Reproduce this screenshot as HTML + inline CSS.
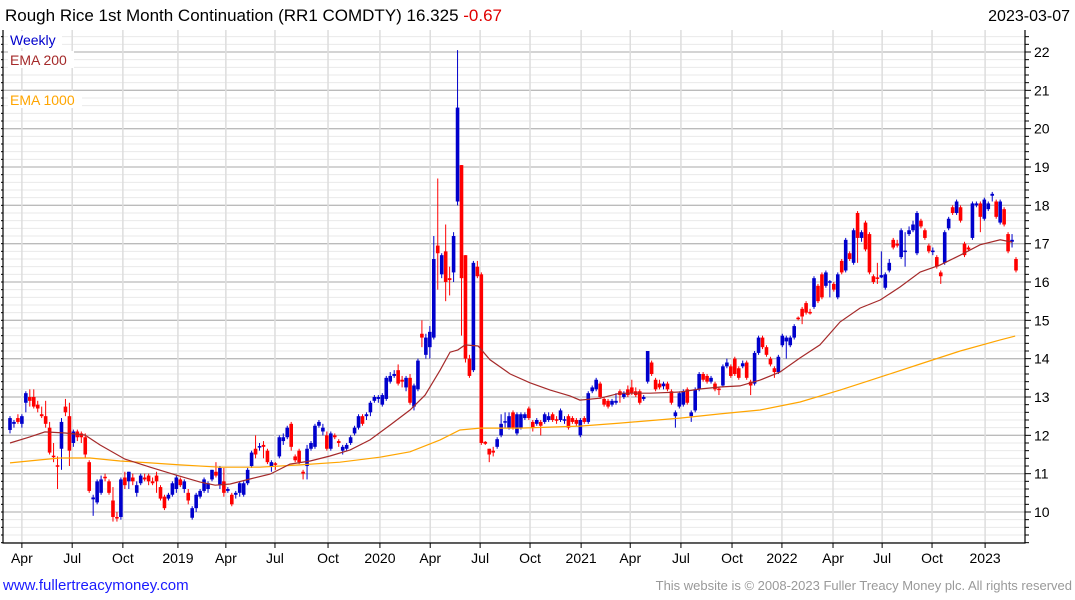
<!DOCTYPE html>
<html><head><meta charset="utf-8"><style>
html,body{margin:0;padding:0;background:#fff;}
svg{display:block;font-family:"Liberation Sans",sans-serif;}
</style></head><body>
<svg id="chart" width="1075" height="600" viewBox="0 0 1075 600" xmlns="http://www.w3.org/2000/svg">
<text x="5" y="21" font-size="17" fill="#000">Rough Rice 1st Month Continuation (RR1 COMDTY) 16.325 <tspan fill="#e00000">-0.67</tspan></text>
<text x="1070" y="21" font-size="16" fill="#000" text-anchor="end">2023-03-07</text>
<g id="grid"></g>
<g id="candles"></g>
<g id="emas"></g>
<g id="axes"></g>
<g font-size="14">
<rect x="8" y="31" width="54" height="17" fill="#fff"/>
<text x="10" y="45" fill="#0000cc">Weekly</text>
<rect x="8" y="51" width="66" height="17" fill="#fff"/>
<text x="10" y="65" fill="#a52a2a">EMA 200</text>
<rect x="8" y="91" width="74" height="17" fill="#fff"/>
<text x="10" y="105" fill="#ffa500">EMA 1000</text>
</g>
<text x="3" y="590" font-size="15" fill="#1a1aff">www.fullertreacymoney.com</text>
<text x="1072" y="590" font-size="13" fill="#999" text-anchor="end">This website is © 2008-2023 Fuller Treacy Money plc. All rights reserved</text>
</svg>
<script>
const opens=[12.14,12.3,12.45,12.3,12.85,13.0,13.0,12.8,12.55,12.5,12.2,11.47,11.22,11.65,12.75,12.5,11.8,12.1,12.05,11.95,11.3,10.33,10.25,10.5,10.92,10.8,10.3,9.87,9.87,10.9,10.8,10.9,10.5,10.75,10.9,10.95,10.8,10.95,10.65,10.4,10.35,10.45,10.6,10.85,10.6,10.5,9.85,10.1,10.4,10.55,10.6,10.85,11.05,10.7,10.8,10.55,10.45,10.45,10.5,10.45,10.75,11.2,11.65,11.68,11.75,11.6,11.2,11.27,11.45,11.85,11.95,12.3,11.45,11.6,11.05,11.2,11.65,11.7,12.25,12.1,12.0,11.65,12.0,11.85,11.6,11.65,11.8,12.05,12.2,12.5,12.5,12.6,12.9,12.95,12.8,12.95,13.4,13.55,13.7,13.45,13.25,13.5,12.75,13.2,14.65,14.1,14.3,14.55,16.95,16.2,16.8,16.1,16.25,18.1,19.05,16.7,14.0,13.7,16.4,16.2,11.83,11.65,11.6,11.7,12.0,12.33,12.2,12.6,12.05,12.2,12.45,12.7,12.35,12.3,12.35,12.35,12.4,12.55,12.42,12.4,12.38,12.5,12.45,12.4,12.0,12.45,12.35,13.15,13.2,13.35,12.95,12.9,12.8,12.85,13.15,13.0,13.2,13.25,13.15,13.15,12.95,13.4,13.9,13.45,13.35,13.28,13.35,13.15,12.5,12.75,12.8,13.2,12.5,12.65,13.2,13.6,13.55,13.4,13.35,13.22,13.3,13.8,13.8,14.0,13.75,13.8,13.9,13.4,13.35,14.15,14.55,14.3,14.0,13.75,13.65,14.35,14.45,14.35,14.55,15.07,15.3,15.45,15.22,15.35,15.9,16.2,15.9,15.98,15.95,15.6,16.55,16.3,16.75,16.5,17.8,17.15,17.55,17.25,16.15,16.12,16.12,15.85,16.3,17.1,17.0,16.65,16.8,17.25,17.35,16.75,17.6,17.35,16.95,16.78,16.65,16.25,16.5,17.4,17.95,17.8,17.95,17.0,16.9,17.15,18.0,18.05,17.65,17.9,18.25,18.1,17.55,17.9,17.25,17.05,16.6];
const highs=[12.5,12.4,12.55,12.55,13.15,13.2,13.2,12.9,12.75,12.9,12.35,11.8,11.45,12.45,12.95,12.85,12.15,12.15,12.1,12.05,11.35,10.45,10.85,10.95,11.0,10.85,10.65,10.0,10.9,11.05,11.05,11.0,10.8,11.0,11.0,11.0,10.9,11.05,10.7,10.45,10.5,10.8,10.95,10.9,10.85,10.6,10.15,10.5,10.6,10.9,10.8,11.1,11.3,11.2,11.15,10.65,10.5,10.55,10.8,10.8,11.15,11.6,12.0,11.8,11.85,11.65,11.35,11.3,12.0,12.05,12.25,12.35,11.5,11.65,11.1,11.75,11.85,12.3,12.4,12.3,12.1,12.1,12.05,11.9,11.75,11.8,12.0,12.25,12.55,12.55,12.6,12.9,13.05,13.05,13.1,13.55,13.65,13.7,13.85,13.55,13.55,13.6,13.35,14.0,15.0,14.65,14.85,17.2,18.7,16.75,17.5,16.4,17.3,22.05,19.05,16.7,14.1,16.55,16.55,16.25,11.85,11.65,11.7,11.95,12.55,12.6,12.6,12.65,12.6,12.6,12.6,12.75,12.4,12.45,12.4,12.6,12.6,12.6,12.5,12.7,12.5,12.55,12.5,12.45,12.45,12.5,13.15,13.3,13.5,13.4,13.0,12.95,12.95,13.1,13.2,13.15,13.3,13.45,13.25,13.2,13.05,14.2,13.95,13.5,13.45,13.4,13.4,13.2,12.65,13.15,13.2,13.25,12.65,13.25,13.65,13.65,13.6,13.55,13.4,13.25,13.85,14.0,13.85,14.05,13.8,13.95,13.95,13.45,14.2,14.6,14.6,14.35,14.05,13.8,14.1,14.65,14.6,14.6,14.9,15.1,15.35,15.5,15.3,16.15,15.95,16.25,16.3,16.05,16.0,16.25,16.6,17.15,16.8,17.4,17.85,17.35,17.6,17.3,16.2,16.5,16.8,16.25,16.6,17.15,17.1,17.4,17.3,17.45,17.6,17.85,17.65,17.4,17.0,16.9,16.7,16.3,17.35,17.7,18.0,18.15,18.0,17.05,16.95,18.1,18.1,18.1,18.2,18.1,18.35,18.15,18.15,17.95,17.3,17.25,16.65];
const lows=[12.05,12.2,12.3,12.2,12.6,12.75,12.7,12.6,12.45,12.2,11.5,11.3,10.6,11.1,12.5,11.2,11.7,11.85,11.8,11.4,10.5,9.9,10.2,10.45,10.8,10.45,9.75,9.75,9.8,10.6,10.6,10.7,10.4,10.7,10.8,10.7,10.7,10.5,10.3,10.05,10.3,10.4,10.5,10.65,10.5,10.2,9.8,10.0,10.35,10.5,10.5,10.8,10.9,10.6,10.4,10.5,10.15,10.35,10.4,10.4,10.7,11.15,11.4,11.6,11.4,11.25,11.05,11.1,11.4,11.75,11.9,11.6,11.3,11.25,10.85,10.85,11.6,11.65,12.2,12.0,11.6,11.6,11.9,11.7,11.5,11.6,11.75,12.0,12.15,12.25,12.4,12.5,12.85,12.85,12.75,12.9,13.35,13.5,13.3,13.25,13.15,12.8,12.65,13.15,14.3,14.0,14.0,14.5,15.8,16.1,15.5,15.65,16.0,18.0,14.6,13.9,13.5,13.65,16.1,11.75,11.75,11.3,11.45,11.65,11.95,12.2,12.15,12.15,12.0,12.15,12.4,12.4,12.1,12.25,12.0,12.3,12.35,12.35,12.3,12.35,12.3,12.15,12.3,12.25,11.95,12.3,12.3,13.1,13.15,12.95,12.75,12.7,12.75,12.8,12.85,12.95,13.0,13.05,13.0,12.8,12.9,13.35,13.55,13.15,13.2,13.2,13.15,12.8,12.2,12.7,12.75,12.8,12.35,12.6,13.15,13.4,13.35,13.35,13.15,13.05,13.25,13.75,13.5,13.55,13.45,13.75,13.45,13.05,13.3,14.1,14.25,14.05,13.8,13.5,13.6,14.3,14.0,14.3,14.5,15.0,14.9,15.15,15.15,15.3,15.45,15.55,15.85,15.6,15.75,15.55,16.2,16.25,16.55,16.45,16.5,17.05,16.8,16.2,15.95,15.95,16.1,15.8,16.25,16.85,16.9,16.6,16.4,17.2,17.3,16.7,17.4,17.1,16.75,16.7,16.35,15.95,16.45,17.35,17.75,17.75,17.55,16.65,16.8,17.1,17.95,17.3,17.6,17.85,18.1,17.65,17.5,17.45,16.75,16.9,16.25];
const closes=[12.45,12.35,12.35,12.5,13.1,12.9,12.75,12.7,12.5,12.3,11.55,11.43,11.18,12.35,12.6,11.6,12.1,11.95,11.95,11.5,10.55,10.38,10.8,10.85,10.88,10.5,9.87,9.83,10.85,10.7,11.05,10.8,10.7,10.95,10.85,10.8,10.75,10.8,10.35,10.1,10.45,10.75,10.9,10.7,10.8,10.3,10.1,10.45,10.55,10.85,10.75,11.1,10.95,11.15,10.5,10.6,10.2,10.5,10.75,10.75,11.1,11.55,11.5,11.72,11.7,11.3,11.3,11.23,11.95,11.95,12.2,11.7,11.35,11.3,11.0,11.65,11.8,12.25,12.35,12.2,11.65,12.05,11.95,11.8,11.7,11.75,11.95,12.2,12.5,12.3,12.55,12.85,13.0,13.0,13.05,13.5,13.55,13.6,13.35,13.4,13.5,12.85,13.3,13.95,14.55,14.55,14.7,16.6,16.75,16.7,16.0,16.05,17.2,20.55,16.1,14.0,13.55,16.5,16.15,11.8,11.78,11.5,11.55,11.9,12.3,12.37,12.5,12.2,12.55,12.55,12.55,12.45,12.2,12.4,12.25,12.55,12.5,12.4,12.38,12.65,12.42,12.2,12.35,12.3,12.4,12.35,13.1,13.25,13.45,13.0,12.8,12.75,12.9,12.9,13.05,13.1,13.05,13.1,13.05,12.85,13.0,14.2,13.6,13.2,13.25,13.35,13.2,12.85,12.6,13.1,13.15,12.85,12.6,13.2,13.6,13.45,13.4,13.5,13.2,13.18,13.8,13.9,13.55,13.6,13.5,13.88,13.5,13.3,14.15,14.55,14.3,14.1,13.85,13.65,14.05,14.6,14.55,14.55,14.85,15.03,15.1,15.2,15.18,16.1,15.5,15.6,16.25,16.02,15.8,16.2,16.25,17.1,16.6,17.35,17.15,17.3,16.85,16.25,16.0,16.08,16.18,16.2,16.5,16.9,16.95,17.35,16.82,17.35,17.5,17.8,17.45,17.15,16.8,16.82,16.4,16.15,17.3,17.65,17.8,18.1,17.6,16.7,16.85,18.05,18.05,17.7,18.15,18.05,18.3,17.7,18.1,17.5,16.8,17.1,16.3];

const ema200Weeks=[0,5,8.8,13.9,18.9,22.7,29,35.4,41.7,48,51.8,55.6,60.6,65.7,70.7,75.8,80.8,85.9,90.9,96,101,104.8,108.6,111.1,113.1,114.9,118.2,121.2,126.3,131.3,136.4,141.4,143.9,149,154,161.6,169.2,174.2,179.3,184.3,189.4,194.4,199.5,204.5,209.6,214.6,219.7,224.7,229.8,234.8,239.9,244.9,250,253];
const ema200Values=[11.80,11.96,12.09,12.06,12.01,11.75,11.38,11.17,10.97,10.78,10.70,10.73,10.86,10.99,11.25,11.33,11.46,11.62,11.88,12.27,12.66,13.05,13.70,14.17,14.23,14.36,14.33,13.97,13.60,13.37,13.18,13.03,12.92,12.97,13.10,13.10,13.13,13.21,13.26,13.29,13.44,13.65,14.02,14.36,14.96,15.32,15.53,15.87,16.26,16.44,16.70,16.97,17.10,17.04];
const ema1000Weeks=[0,7.6,12.6,20.2,27.8,35.4,42.9,53,63.1,73.2,83.3,93.4,101,108.6,113.6,118.7,128.8,143.9,154,169.2,179.3,189.4,199.5,209.6,219.7,229.8,239.9,250,253.8];
const ema1000Values=[11.28,11.36,11.41,11.41,11.33,11.28,11.23,11.17,11.17,11.23,11.30,11.43,11.57,11.88,12.14,12.19,12.19,12.24,12.32,12.45,12.56,12.66,12.87,13.18,13.52,13.86,14.20,14.49,14.59];

const tickWeeks=[3.0,15.7,28.5,42.4,54.5,66.9,80.3,93.4,106.1,118.7,131.3,144.2,156.6,169.4,182.3,194.9,207.8,220.2,232.8,246.2];
const tickLabels=["Apr","Jul","Oct","2019","Apr","Jul","Oct","2020","Apr","Jul","Oct","2021","Apr","Jul","Oct","2022","Apr","Jul","Oct","2023"];
const yTicks=[10,11,12,13,14,15,16,17,18,19,20,21,22];

const NS="http://www.w3.org/2000/svg";
const L=3,R=1025,T=30,B=543;
function xs(w){return 10+w*(1006/(closes.length-1));}
function ys(v){return 512-(v-10)*38.333;}
function mk(tag,attrs,parent){const e=document.createElementNS(NS,tag);for(const k in attrs)e.setAttribute(k,attrs[k]);parent.appendChild(e);return e;}

const grid=document.getElementById('grid');
for(let k=46;k<=112;k++){
  const v=k*0.2; const y=ys(v);
  if(y<T||y>B)continue;
  const major=(k%5===0);
  const ln=mk('line',{x1:L,x2:R,y1:y,y2:y,stroke:major?'#bbbbbb':'#eaeaea','stroke-width':major?1.3:1},grid);
  
  
}
tickWeeks.forEach(w=>{
  const x=xs(w);
  const ln=mk('line',{x1:x,x2:x,y1:T,y2:B,stroke:'#dddddd','stroke-width':1.5},grid);
  
  
});

const cg=document.getElementById('candles');
for(let i=0;i<closes.length;i++){
  const up=closes[i]>=opens[i];
  const col=up?'#0000cc':'#ff0000';
  const x=xs(i);
  const g=mk('g',{},cg);
  
  
  mk('line',{x1:x,x2:x,y1:ys(highs[i]),y2:ys(lows[i]),stroke:col,'stroke-width':1},g);
  const top=ys(Math.max(opens[i],closes[i])), bot=ys(Math.min(opens[i],closes[i]));
  mk('rect',{x:x-1.8,y:top,width:3.6,height:Math.max(1.5,bot-top),fill:col},g);
}

const eg=document.getElementById('emas');
function poly(ws,vs,col,name){
  const p=mk('polyline',{points:ws.map((w,i)=>xs(w).toFixed(1)+','+ys(vs[i]).toFixed(1)).join(' '),fill:'none',stroke:col,'stroke-width':1.2},eg);
  
  
}
poly(ema1000Weeks,ema1000Values,'#ffa500','ema-1000-line');
poly(ema200Weeks,ema200Values,'#a52a2a','ema-200-line');

const ax=document.getElementById('axes');
const frame=mk('path',{d:`M${L},${T} L${L},${B} L${R},${B} L${R},${T}`,fill:'none',stroke:'#000','stroke-width':1.2},ax);


for(let k=46;k<=112;k++){
  const y=ys(k*0.2); if(y<T||y>B)continue;
  const major=(k%5===0);
  mk('line',{x1:R,x2:R+(major?6:4),y1:y,y2:y,stroke:'#000','stroke-width':1},ax);
  mk('line',{x1:L-2,x2:L,y1:y,y2:y,stroke:'#000','stroke-width':1},ax);
}
yTicks.forEach(v=>{
  const t=mk('text',{x:R+9,y:ys(v)+5,'font-size':14,fill:'#000'},ax);
  t.textContent=String(v);
  
  
});
tickWeeks.forEach((w,i)=>{
  const x=xs(w);
  mk('line',{x1:x,x2:x,y1:B,y2:B+5,stroke:'#000','stroke-width':1},ax);
  const t=mk('text',{x:x,y:563,'font-size':14,fill:'#000','text-anchor':'middle'},ax);
  t.textContent=tickLabels[i];
  
  
});
</script>
</body></html>
